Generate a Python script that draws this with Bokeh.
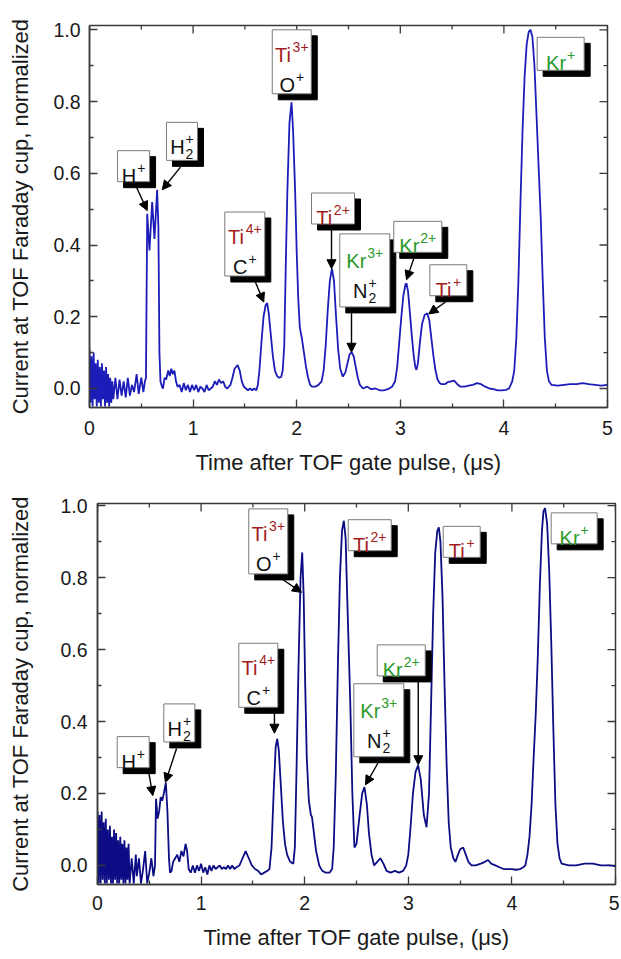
from bokeh.plotting import figure
from bokeh.models import (Range1d, LinearAxis, FixedTicker, PrintfTickFormatter,
                          Arrow, NormalHead, ColumnDataSource)
from bokeh.embed import file_html
from bokeh.resources import INLINE
from bokeh.core.properties import value

# ---------------- data ----------------
top_time = [
    0.00, 0.01, 0.02, 0.03, 0.04, 0.05, 0.06, 0.07, 0.08, 0.09, 0.10, 0.11,
    0.12, 0.13, 0.14, 0.15, 0.16, 0.17, 0.18, 0.19, 0.20, 0.21, 0.22, 0.23,
    0.25, 0.27, 0.29, 0.31, 0.33, 0.35, 0.37, 0.39, 0.41, 0.43, 0.455, 0.475, 0.50, 0.52, 0.535,
    0.545, 0.557, 0.579, 0.605, 0.627, 0.653, 0.665, 0.675, 0.685, 0.70,
    0.71, 0.725, 0.74, 0.76, 0.775, 0.79, 0.805, 0.82, 0.835, 0.85,
    0.87, 0.89, 0.91, 0.93, 0.95, 0.97, 0.99, 1.01, 1.03, 1.05,
    1.07, 1.09, 1.11, 1.13, 1.15, 1.17, 1.19, 1.21, 1.23, 1.25,
    1.27, 1.29, 1.31, 1.33, 1.36, 1.38, 1.40, 1.43, 1.45, 1.47,
    1.49, 1.51, 1.53, 1.55, 1.57, 1.59, 1.61, 1.625, 1.64, 1.66,
    1.68, 1.70, 1.715, 1.73, 1.75, 1.77, 1.79, 1.81, 1.83, 1.85,
    1.865, 1.88, 1.895, 1.91, 1.93, 1.95, 1.965, 1.985, 2.00, 2.015,
    2.03, 2.05, 2.07, 2.09, 2.11, 2.13, 2.15, 2.18, 2.21, 2.24,
    2.26, 2.28, 2.30, 2.32, 2.34, 2.36, 2.38, 2.40, 2.42, 2.445,
    2.47, 2.49, 2.51, 2.53, 2.55, 2.57, 2.59, 2.61, 2.64, 2.68,
    2.72, 2.76, 2.80, 2.84, 2.88, 2.92, 2.95, 2.97, 2.99, 3.01,
    3.03, 3.05, 3.06, 3.075, 3.09, 3.11, 3.13, 3.145, 3.156, 3.17,
    3.19, 3.21, 3.235, 3.26, 3.28, 3.30, 3.32, 3.34, 3.36, 3.38,
    3.40, 3.43, 3.46, 3.49, 3.52, 3.55, 3.58, 3.62, 3.66, 3.70,
    3.74, 3.78, 3.82, 3.86, 3.90, 3.94, 3.98, 4.02, 4.05, 4.08,
    4.10, 4.12, 4.14, 4.16, 4.18, 4.20, 4.22, 4.24, 4.257, 4.275,
    4.295, 4.315, 4.335, 4.355, 4.375, 4.395, 4.415, 4.435, 4.46, 4.52,
    4.58, 4.64, 4.70, 4.76, 4.82, 4.88, 4.94, 5.00,
]
top_current = [
    0.11, -0.04, 0.09, -0.05, 0.10, -0.03, 0.07, -0.05, 0.08, -0.04, 0.06, -0.05,
    0.07, -0.03, 0.05, -0.05, 0.06, -0.04, 0.04, -0.05, 0.03, -0.04, 0.02, -0.03,
    0.03, -0.03, 0.025, -0.02, 0.02, -0.025, 0.03, -0.02, 0.01, -0.01, 0.04, -0.015, 0.03, -0.01, 0.02,
    0.03, 0.487, 0.385, 0.52, 0.417, 0.554, 0.45, 0.10, 0.02, 0.005,
    0.0, 0.03, 0.025, 0.05, 0.035, 0.055, 0.04, 0.05, 0.02, 0.005,
    0.01, -0.01, 0.015, -0.005, 0.01, -0.01, 0.01, -0.005, 0.01, -0.01,
    0.005, 0.0, -0.01, 0.01, -0.005, 0.0, 0.005, 0.02, 0.01, 0.025,
    0.015, 0.02, 0.005, 0.0, 0.01, 0.03, 0.055, 0.065, 0.05, 0.02,
    0.005, 0.0, -0.005, 0.0, -0.005, 0.0, -0.005, 0.01, 0.05, 0.13,
    0.20, 0.232, 0.238, 0.21, 0.15, 0.09, 0.05, 0.035, 0.03, 0.032,
    0.05, 0.12, 0.35, 0.55, 0.74, 0.798, 0.72, 0.55, 0.38, 0.25,
    0.17, 0.14, 0.10, 0.06, 0.03, 0.01, 0.005, 0.005, 0.01, 0.02,
    0.05, 0.12, 0.22, 0.30, 0.334, 0.30, 0.20, 0.11, 0.055, 0.033,
    0.045, 0.07, 0.095, 0.101, 0.09, 0.06, 0.03, 0.01, 0.0, 0.005,
    -0.002, 0.0, -0.005, -0.005, -0.002, 0.005, 0.02, 0.06, 0.13, 0.20,
    0.26, 0.29, 0.293, 0.27, 0.22, 0.15, 0.09, 0.06, 0.052, 0.07,
    0.13, 0.18, 0.205, 0.21, 0.19, 0.14, 0.09, 0.05, 0.025, 0.015,
    0.012, 0.012, 0.018, 0.02, 0.022, 0.012, 0.005, 0.005, 0.008, 0.01,
    0.015, 0.012, 0.005, 0.0, -0.002, -0.005, -0.005, -0.004, 0.0, 0.02,
    0.05, 0.14, 0.30, 0.52, 0.72, 0.87, 0.96, 0.995, 1.0, 0.98,
    0.90, 0.76, 0.62, 0.48, 0.30, 0.14, 0.05, 0.02, 0.01, 0.008,
    0.01, 0.012, 0.012, 0.015, 0.012, 0.01, 0.008, 0.01,
]

bottom_time = [
    0.00, 0.01, 0.02, 0.03, 0.04, 0.05, 0.06, 0.07, 0.08, 0.09, 0.10, 0.11,
    0.12, 0.13, 0.14, 0.15, 0.16, 0.17, 0.18, 0.19, 0.20, 0.21, 0.22, 0.23,
    0.24, 0.25, 0.26, 0.27, 0.28, 0.29, 0.30, 0.31,
    0.33, 0.35, 0.37, 0.38, 0.40, 0.42, 0.44, 0.46, 0.48, 0.50, 0.52, 0.54, 0.555,
    0.565, 0.58, 0.595, 0.61, 0.625, 0.64, 0.66, 0.675, 0.69, 0.70,
    0.715, 0.73, 0.75, 0.77, 0.79, 0.81, 0.83, 0.85, 0.865, 0.88,
    0.90, 0.92, 0.94, 0.96, 0.98, 1.00, 1.02, 1.04, 1.06, 1.08,
    1.10, 1.12, 1.14, 1.16, 1.18, 1.20, 1.22, 1.24, 1.26, 1.28,
    1.30, 1.32, 1.34, 1.37, 1.40, 1.43, 1.46, 1.49, 1.52, 1.55,
    1.58, 1.61, 1.64, 1.66, 1.68, 1.70, 1.72, 1.735, 1.75, 1.77,
    1.79, 1.81, 1.83, 1.86, 1.89, 1.905, 1.92, 1.94, 1.96, 1.976,
    1.99, 2.005, 2.02, 2.04, 2.06, 2.07, 2.085, 2.11, 2.14, 2.17,
    2.20, 2.24, 2.265, 2.28, 2.30, 2.32, 2.34, 2.36, 2.378, 2.395,
    2.41, 2.425, 2.44, 2.46, 2.48, 2.50, 2.53, 2.555, 2.577, 2.60,
    2.62, 2.645, 2.67, 2.70, 2.73, 2.76, 2.79, 2.83, 2.87, 2.91,
    2.95, 2.98, 3.00, 3.02, 3.045, 3.07, 3.095, 3.12, 3.15, 3.176,
    3.20, 3.22, 3.24, 3.26, 3.28, 3.295, 3.31, 3.33, 3.35, 3.37,
    3.39, 3.41, 3.435, 3.455, 3.48, 3.50, 3.53, 3.555, 3.58, 3.61,
    3.65, 3.70, 3.74, 3.77, 3.80, 3.84, 3.88, 3.92, 3.96, 4.00,
    4.04, 4.08, 4.11, 4.13, 4.15, 4.17, 4.19, 4.21, 4.23, 4.25,
    4.27, 4.29, 4.305, 4.32, 4.34, 4.36, 4.38, 4.40, 4.42, 4.44,
    4.46, 4.48, 4.55, 4.62, 4.70, 4.78, 4.86, 4.94, 5.00,
]
bottom_current = [
    0.15, -0.05, 0.14, -0.05, 0.15, -0.04, 0.12, -0.05, 0.13, -0.05, 0.10, -0.04,
    0.11, -0.05, 0.08, -0.05, 0.10, -0.04, 0.09, -0.05, 0.07, -0.05, 0.08, -0.04,
    0.06, -0.05, 0.07, -0.05, 0.05, -0.04, 0.06, -0.05,
    0.02, -0.05, 0.03, -0.03, 0.02, -0.05, -0.01, 0.04, -0.05, -0.02, 0.02, -0.03, 0.0,
    0.185, 0.13, 0.15, 0.19, 0.18, 0.20, 0.23, 0.15, 0.02, -0.02,
    -0.015, 0.01, 0.02, 0.03, 0.01, 0.04, 0.025, 0.06, 0.04, -0.01,
    -0.02, 0.0, -0.02, 0.0, -0.015, 0.005, -0.02, -0.005, -0.025, 0.0,
    -0.015, 0.0, -0.01, -0.005, 0.0, -0.01, -0.005, -0.01, 0.0, -0.01,
    0.0, -0.01, -0.005, 0.0, 0.02, 0.04, 0.02, 0.0, -0.01, -0.015,
    -0.025, -0.02, -0.015, -0.01, 0.05, 0.20, 0.33, 0.352, 0.32, 0.22,
    0.12, 0.06, 0.03, 0.01, 0.005, 0.05, 0.25, 0.55, 0.80, 0.87,
    0.75, 0.50, 0.30, 0.18, 0.14, 0.135, 0.10, 0.04, 0.0, -0.015,
    -0.02, -0.02, -0.01, 0.05, 0.25, 0.55, 0.80, 0.93, 0.958, 0.91,
    0.75, 0.60, 0.45, 0.20, 0.05, 0.06, 0.14, 0.20, 0.218, 0.17,
    0.09, 0.03, 0.0, 0.01, 0.02, 0.005, -0.015, -0.02, -0.015, -0.02,
    -0.015, 0.0, 0.03, 0.10, 0.20, 0.26, 0.278, 0.24, 0.14, 0.106,
    0.20, 0.45, 0.70, 0.87, 0.93, 0.94, 0.90, 0.75, 0.50, 0.28,
    0.12, 0.05, 0.02, 0.01, 0.03, 0.045, 0.05, 0.03, 0.01, 0.0,
    0.0, 0.005, 0.01, 0.015, 0.005, 0.0, -0.005, -0.01, -0.01, -0.01,
    -0.012, -0.01, -0.005, 0.0, 0.03, 0.08, 0.17, 0.30, 0.42, 0.58,
    0.78, 0.93, 0.985, 0.993, 0.95, 0.82, 0.62, 0.38, 0.17, 0.06,
    0.02, 0.005, 0.0, 0.0, 0.005, 0.005, 0.0, 0.0, -0.002,
]

x_ticks = [0, 1, 2, 3, 4, 5]
x_minor_ticks = [0.5, 1.5, 2.5, 3.5, 4.5]
y_ticks = [0.0, 0.2, 0.4, 0.6, 0.8, 1.0]
y_minor_ticks = [-0.1, 0.1, 0.3, 0.5, 0.7, 0.9]

x_title = "Time after TOF gate pulse, (\u03bcs)"
y_title = "Current at TOF Faraday cup, normalized"

RED = "#a31c1c"
GREEN = "#2a9a2a"
BLACK = "#111111"

# label boxes: (left time, top value, width px, height px, first baseline px, lines)
top_labels = [
    (0.271, 0.663, 32, 31, 25, [("H", BLACK, "+", "")]),
    (0.743, 0.742, 31, 38, 25, [("H", BLACK, "+", "2")]),
    (1.306, 0.492, 40, 64, 25, [("Ti", RED, "4+", ""), ("C", BLACK, "+", "")]),
    (1.764, 1.000, 39, 64, 25, [("Ti", RED, "3+", ""), ("O", BLACK, "+", "")]),
    (2.143, 0.545, 43, 31, 25, [("Ti", RED, "2+", "")]),
    (2.416, 0.431, 50, 73, 27, [("Kr", GREEN, "3+", ""), ("N", BLACK, "+", "2")]),
    (2.937, 0.466, 48, 31, 25, [("Kr", GREEN, "2+", "")]),
    (3.285, 0.345, 37, 31, 25, [("Ti", RED, "+", "")]),
    (4.321, 0.979, 47, 33, 26, [("Kr", GREEN, "+", "")]),
]
top_arrows = [
    (0.454, 0.561, 0.557, 0.496),
    (0.878, 0.617, 0.702, 0.554),
    (1.602, 0.296, 1.682, 0.241),
    (2.336, 0.442, 2.336, 0.334),
    (2.529, 0.210, 2.529, 0.101),
    (3.130, 0.362, 3.060, 0.303),
    (3.436, 0.241, 3.275, 0.208),
]
bottom_labels = [
    (0.190, 0.358, 32, 31, 25, [("H", BLACK, "+", "")]),
    (0.640, 0.449, 31, 38, 25, [("H", BLACK, "+", "2")]),
    (1.364, 0.6175, 39, 64, 25, [("Ti", RED, "4+", ""), ("C", BLACK, "+", "")]),
    (1.460, 0.991, 39, 65, 25, [("Ti", RED, "3+", ""), ("O", BLACK, "+", "")]),
    (2.420, 0.961, 43, 31, 25, [("Ti", RED, "2+", "")]),
    (2.474, 0.505, 50, 73, 27, [("Kr", GREEN, "3+", ""), ("N", BLACK, "+", "2")]),
    (2.700, 0.613, 48, 31, 25, [("Kr", GREEN, "2+", "")]),
    (3.337, 0.9425, 37, 31, 25, [("Ti", RED, "+", "")]),
    (4.379, 0.980, 46, 31, 25, [("Kr", GREEN, "+", "")]),
]
bottom_arrows = [
    (0.495, 0.258, 0.534, 0.194),
    (0.763, 0.325, 0.656, 0.231),
    (1.708, 0.423, 1.708, 0.3675),
    (1.792, 0.794, 1.969, 0.759),
    (2.706, 0.284, 2.587, 0.224),
    (3.096, 0.511, 3.096, 0.280),
]

FONT = "Liberation Sans"
MAIN_PX = 20
SCRIPT_PX = 14
GLYPH_W = {"T": 611, "i": 222, "K": 667, "r": 333, "H": 722, "O": 778, "C": 722,
           "N": 722, "+": 584, "2": 556, "3": 556, "4": 556}
AXIS_COLOR = "#3a3a3a"
TEXT_COLOR = "#1a1a1a"


def text_w(s, size):
    return sum(GLYPH_W.get(c, 556) for c in s) * size / 1000.0


def make_panel(t, v, color, y_end, borders, fw, fh, x_standoffs, y_standoffs,
               labels, arrows):
    x0, x1 = 0.0, 5.0
    y0 = -0.053
    left, right, top, bottom = borders
    p = figure(width=left + fw + right, height=top + fh + bottom, output_backend="svg",
               toolbar_location=None, x_range=Range1d(x0, x1), y_range=Range1d(y0, y_end),
               min_border_left=left, min_border_right=right, min_border_top=top,
               min_border_bottom=bottom, x_axis_location=None, y_axis_location=None,
               background_fill_color="white", border_fill_color="white")
    p.grid.visible = False
    p.outline_line_color = AXIS_COLOR
    p.outline_line_width = 1.5

    kx = (x1 - x0) / fw
    ky = (y_end - y0) / fh

    def style(ax):
        ax.axis_line_color = AXIS_COLOR
        ax.axis_line_width = 1.5
        ax.major_tick_line_color = AXIS_COLOR
        ax.minor_tick_line_color = AXIS_COLOR
        ax.major_tick_line_width = 1.3
        ax.minor_tick_line_width = 1.3
        ax.major_tick_in = 8
        ax.major_tick_out = 0
        ax.minor_tick_in = 4
        ax.minor_tick_out = 0
        ax.major_label_text_font = FONT
        ax.major_label_text_font_size = "19.5px"
        ax.major_label_text_color = TEXT_COLOR
        ax.axis_label_text_font = FONT
        ax.axis_label_text_font_size = "22px"
        ax.axis_label_text_font_style = "normal"
        ax.axis_label_text_color = TEXT_COLOR

    xt = FixedTicker(ticks=x_ticks, minor_ticks=x_minor_ticks)
    yt = FixedTicker(ticks=y_ticks, minor_ticks=y_minor_ticks)

    xb = LinearAxis(ticker=xt, formatter=PrintfTickFormatter(format="%d"), axis_label=x_title)
    style(xb)
    xb.major_label_standoff = x_standoffs[0]
    xb.axis_label_standoff = x_standoffs[1]
    p.add_layout(xb, "below")

    yl = LinearAxis(ticker=yt, formatter=PrintfTickFormatter(format="%.1f"), axis_label=y_title)
    style(yl)
    yl.major_label_standoff = y_standoffs[0]
    yl.axis_label_standoff = y_standoffs[1]
    p.add_layout(yl, "left")

    # mirrored inward ticks on the top and right frame edges
    tx = list(x_ticks) + list(x_minor_ticks)
    tl = [8] * len(x_ticks) + [4] * len(x_minor_ticks)
    p.segment(x0=tx, y0=[y_end] * len(tx), x1=tx, y1=[y_end - L * ky for L in tl],
              line_color=AXIS_COLOR, line_width=1.3)
    ty = [y for y in list(y_ticks) + list(y_minor_ticks) if y > y0]
    tyl = [8 if y in y_ticks else 4 for y in ty]
    p.segment(x0=[x1] * len(ty), y0=ty, x1=[x1 - L * kx for L in tyl], y1=ty,
              line_color=AXIS_COLOR, line_width=1.3)

    p.line(t, v, line_color=color, line_width=1.8)

    # label boxes
    sh = {"l": [], "r": [], "t": [], "b": []}
    bx = {"l": [], "r": [], "t": [], "b": []}
    pieces = {MAIN_PX: {"x": [], "y": [], "s": [], "c": []},
              SCRIPT_PX: {"x": [], "y": [], "s": [], "c": []}}
    for (lt, tv, w, h, fb, lines) in labels:
        rt = lt + w * kx
        bv = tv - h * ky
        bx["l"].append(lt); bx["r"].append(rt); bx["t"].append(tv); bx["b"].append(bv)
        sh["l"].append(lt + 6 * kx); sh["r"].append(rt + 6 * kx)
        sh["t"].append(tv - 6 * ky); sh["b"].append(bv - 6 * ky)
        for i, (base, col, sup, sub) in enumerate(lines):
            bl = tv - (fb + 30 * i) * ky
            mw = text_w(base, MAIN_PX)
            sw = max(text_w(sup, SCRIPT_PX), text_w(sub, SCRIPT_PX))
            total = mw + 1 + sw
            xs = lt + (w - total) / 2.0 * kx
            pieces[MAIN_PX]["x"].append(xs); pieces[MAIN_PX]["y"].append(bl)
            pieces[MAIN_PX]["s"].append(base); pieces[MAIN_PX]["c"].append(col)
            xsc = xs + (mw + 1) * kx
            if sup:
                pieces[SCRIPT_PX]["x"].append(xsc); pieces[SCRIPT_PX]["y"].append(bl + 8 * ky)
                pieces[SCRIPT_PX]["s"].append(sup); pieces[SCRIPT_PX]["c"].append(col)
            if sub:
                pieces[SCRIPT_PX]["x"].append(xsc); pieces[SCRIPT_PX]["y"].append(bl - 7 * ky)
                pieces[SCRIPT_PX]["s"].append(sub); pieces[SCRIPT_PX]["c"].append(col)

    for (xs_, ys_, xe_, ye_) in arrows:
        p.add_layout(Arrow(end=NormalHead(size=9, fill_color="black", line_color="black",
                                          line_width=1),
                           x_start=xs_, y_start=ys_, x_end=xe_, y_end=ye_,
                           line_color="black", line_width=1.4))

    p.quad(left=sh["l"], right=sh["r"], top=sh["t"], bottom=sh["b"],
           fill_color="black", line_color="black")
    p.quad(left=bx["l"], right=bx["r"], top=bx["t"], bottom=bx["b"],
           fill_color="white", line_color="#7a7a7a", line_width=1)
    for size, d in pieces.items():
        src = ColumnDataSource(dict(x=d["x"], y=d["y"], s=d["s"], c=d["c"]))
        p.text(x="x", y="y", text="s", text_color="c", source=src,
               text_font=value(FONT), text_font_size="%dpx" % size,
               text_align="left", text_baseline="alphabetic")
    return p


# two separate roots so that the frames keep their own left edges (89 and 97 px)
p1 = make_panel(top_time, top_current, "#1c1cb8", 1.012, (89, 6, 25, 73), 518, 382,
                (13, 12), (9, 17), top_labels, top_arrows)
p2 = make_panel(bottom_time, bottom_current, "#0c0c84", 1.006, (97, 4, 23, 74), 518, 381,
                (11, 12), (10, 24), bottom_labels, bottom_arrows)

open("out.html", "w").write(file_html([p1, p2], INLINE))
